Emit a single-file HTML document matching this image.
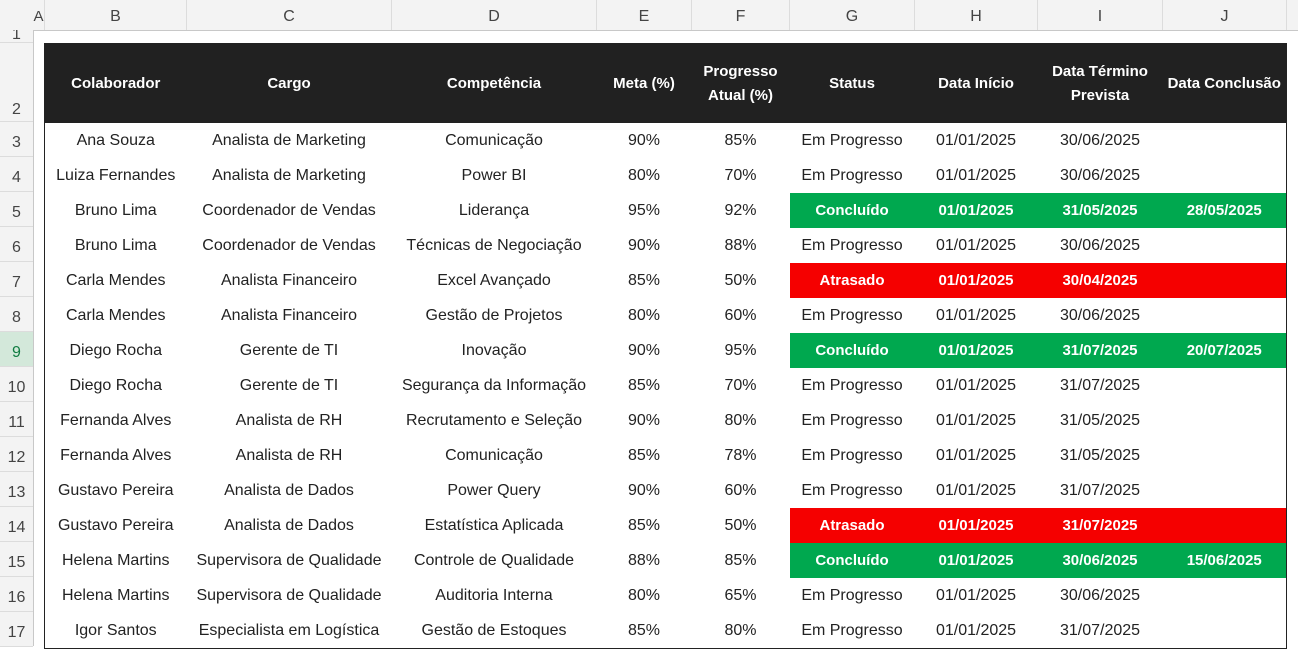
<!DOCTYPE html>
<html><head><meta charset="utf-8"><style>
body{margin:0;width:1298px;height:646px;overflow:hidden;background:#fff;font-family:"Liberation Sans",sans-serif;position:relative}
.colhdr{position:absolute;top:0;left:0;width:1298px;height:30px;background:#f3f3f3;border-bottom:1px solid #c8c8c8}
.ch{position:absolute;top:0;height:30px;line-height:34px;text-align:center;color:#444;font-size:16px;border-right:1px solid #dcdcdc;box-sizing:border-box}
.rowhdr{position:absolute;top:30px;left:0;width:33px;height:616px;background:#f3f3f3;border-right:1px solid #c8c8c8}
.rn{position:absolute;left:0;width:33px;text-align:center;color:#444;font-size:16px;border-bottom:1px solid #dcdcdc;box-sizing:border-box}
table{position:absolute;left:44px;top:43px;border-collapse:collapse;table-layout:fixed;border:1px solid #222}
td,th{padding:0;text-align:center;white-space:nowrap;overflow:hidden}
th{background:#212121;color:#fff;font-size:15px;font-weight:bold;height:79px;line-height:24px}
td{height:35px;font-size:16px;color:#222}
td.g{background:#00a84f;color:#fff;font-weight:bold;font-size:15px}
td.r{background:#f50000;color:#fff;font-weight:bold;font-size:15px}
</style></head><body>
<div class="colhdr">
<div class="ch" style="left:33px;width:12px;line-height:34px;font-size:15px">A</div>
<div class="ch" style="left:45px;width:142px">B</div>
<div class="ch" style="left:187px;width:205px">C</div>
<div class="ch" style="left:392px;width:205px">D</div>
<div class="ch" style="left:597px;width:95px">E</div>
<div class="ch" style="left:692px;width:98px">F</div>
<div class="ch" style="left:790px;width:125px">G</div>
<div class="ch" style="left:915px;width:123px">H</div>
<div class="ch" style="left:1038px;width:125px">I</div>
<div class="ch" style="left:1163px;width:124px">J</div>
</div>
<div class="rowhdr">
<div class="rn" style="top:0;height:13px;line-height:10px;overflow:hidden">1</div>
<div class="rn" style="top:13px;height:79px;line-height:134px">2</div>
<div id="rns"></div>
</div>
<table>
<colgroup><col style="width:142px"><col style="width:205px"><col style="width:205px"><col style="width:95px"><col style="width:98px"><col style="width:125px"><col style="width:123px"><col style="width:125px"><col style="width:124px"></colgroup>
<thead><tr>
<th>Colaborador</th>
<th>Cargo</th>
<th>Competência</th>
<th>Meta (%)</th>
<th>Progresso<br>Atual (%)</th>
<th>Status</th>
<th>Data Início</th>
<th>Data Término<br>Prevista</th>
<th>Data Conclusão</th>
</tr></thead>
<tbody id="tb"></tbody>
</table>
<script>
const rows=[
["Ana Souza","Analista de Marketing","Comunicação","90%","85%","Em Progresso","01/01/2025","30/06/2025",""],
["Luiza Fernandes","Analista de Marketing","Power BI","80%","70%","Em Progresso","01/01/2025","30/06/2025",""],
["Bruno Lima","Coordenador de Vendas","Liderança","95%","92%","Concluído","01/01/2025","31/05/2025","28/05/2025"],
["Bruno Lima","Coordenador de Vendas","Técnicas de Negociação","90%","88%","Em Progresso","01/01/2025","30/06/2025",""],
["Carla Mendes","Analista Financeiro","Excel Avançado","85%","50%","Atrasado","01/01/2025","30/04/2025",""],
["Carla Mendes","Analista Financeiro","Gestão de Projetos","80%","60%","Em Progresso","01/01/2025","30/06/2025",""],
["Diego Rocha","Gerente de TI","Inovação","90%","95%","Concluído","01/01/2025","31/07/2025","20/07/2025"],
["Diego Rocha","Gerente de TI","Segurança da Informação","85%","70%","Em Progresso","01/01/2025","31/07/2025",""],
["Fernanda Alves","Analista de RH","Recrutamento e Seleção","90%","80%","Em Progresso","01/01/2025","31/05/2025",""],
["Fernanda Alves","Analista de RH","Comunicação","85%","78%","Em Progresso","01/01/2025","31/05/2025",""],
["Gustavo Pereira","Analista de Dados","Power Query","90%","60%","Em Progresso","01/01/2025","31/07/2025",""],
["Gustavo Pereira","Analista de Dados","Estatística Aplicada","85%","50%","Atrasado","01/01/2025","31/07/2025",""],
["Helena Martins","Supervisora de Qualidade","Controle de Qualidade","88%","85%","Concluído","01/01/2025","30/06/2025","15/06/2025"],
["Helena Martins","Supervisora de Qualidade","Auditoria Interna","80%","65%","Em Progresso","01/01/2025","30/06/2025",""],
["Igor Santos","Especialista em Logística","Gestão de Estoques","85%","80%","Em Progresso","01/01/2025","31/07/2025",""]];
const tb=document.getElementById('tb');
rows.forEach((r,i)=>{
 const tr=document.createElement('tr');
 
 
 const cls=r[5]==="Concluído"?"g":r[5]==="Atrasado"?"r":"";
 r.forEach((v,j)=>{
  const td=document.createElement('td');
  td.textContent=v;
  if(j>=5&&cls)td.className=cls;
  
  
  tr.appendChild(td);
 });
 tb.appendChild(tr);
 const rn=document.createElement('div');
 rn.className='rn';
 rn.style.top=(92+i*35)+'px';rn.style.height='35px';rn.style.lineHeight='42px';
 if(i===6){rn.style.background='#d3e8da';rn.style.color='#107c41';}
 rn.textContent=i+3;
 
 
 document.querySelector('.rowhdr').appendChild(rn);
});
</script>
</body></html>
